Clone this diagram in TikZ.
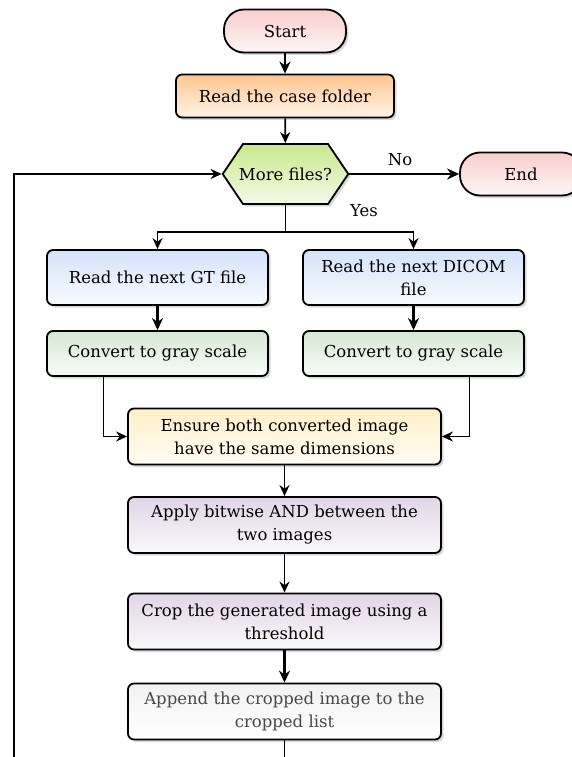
\documentclass[tikz,border=0pt]{standalone}
\usepackage{fontspec}
\setmainfont{DejaVu Serif}
\usetikzlibrary{arrows.meta,shadows,shapes.symbols}

\definecolor{termcol}{HTML}{F8CECC}
\definecolor{foldcol}{HTML}{FFC68F}
\definecolor{askcol}{HTML}{C8E88C}
\definecolor{readcol}{HTML}{D4E3FA}
\definecolor{convcol}{HTML}{D5E8D4}
\definecolor{samecol}{HTML}{FFF0C8}
\definecolor{andcol}{HTML}{E1D5E7}
\definecolor{listcol}{HTML}{F2F2F2}

\begin{document}
\begin{tikzpicture}[x=1pt, y=-1pt,
    font=\fontsize{16.5}{23}\selectfont,
    shade/.style={drop shadow={opacity=0.3, shadow xshift=2.5pt, shadow yshift=-2.5pt}},
    box/.style={draw, line width=1.8pt, rounded corners=6pt, align=center, inner sep=2pt, shade},
    term/.style={box, rounded corners=20pt, minimum width=122pt, minimum height=43pt, top color=termcol, bottom color=termcol!20!white},
    wide/.style={box, minimum width=313pt, minimum height=56pt},
    half/.style={box, minimum width=221pt},
    arr/.style={line width=1.8pt, -{Stealth[length=11pt, width=10pt]}},
    thickarr/.style={line width=2.6pt, -{Stealth[length=12pt, width=11pt]}},
    wire/.style={line width=1.8pt}
]
    \useasboundingbox (0,0) rectangle (571,757);

    % terminals
    \node[term] (start) at (285,31) {Start};
    \node[term] (stop) at (521,174) {End};

    % main column
    \node[box, minimum width=218pt, minimum height=43pt, top color=foldcol, bottom color=foldcol!20!white] (folder) at (285,96) {Read the case folder};
    \node[draw, line width=1.8pt, shape=signal, signal to=east and west, signal pointer angle=112, minimum height=60pt, inner xsep=-4pt, inner ysep=1pt, shade, top color=askcol, bottom color=askcol!20!white] (more) at (285.5,174) {More files?};

    \node[half, minimum height=55pt, top color=readcol, bottom color=readcol!15!white] (gt) at (157.5,277.5) {Read the next GT file};
    \node[half, minimum height=55pt, top color=readcol, bottom color=readcol!15!white] (dicom) at (413.5,277.5) {Read the next DICOM\\file};
    \node[half, minimum height=45pt, top color=convcol, bottom color=convcol!15!white] (cvl) at (157.5,353.5) {Convert to gray scale};
    \node[half, minimum height=45pt, top color=convcol, bottom color=convcol!15!white] (cvr) at (413.5,353.5) {Convert to gray scale};

    \node[wide, top color=samecol, bottom color=samecol!20!white] (ensure) at (284.5,436.5) {Ensure both converted image\\have the same dimensions};
    \node[wide, top color=andcol, bottom color=andcol!15!white] (apply) at (284.5,525) {Apply bitwise AND between the\\two images};
    \node[wide, top color=andcol, bottom color=andcol!15!white] (crop) at (284.5,621.5) {Crop the generated image using a\\threshold};
    \node[wide, top color=listcol, bottom color=white, text=black!72] (append) at (284.5,711.5) {Append the cropped image to the\\cropped list};

    % labels
    \node (no) at (400,160) {No};
    \node (yes) at (364,211) {Yes};

    % helper points
    \coordinate (split) at (285.5,232);
    \coordinate (appbot) at (284.5,757);
    \coordinate (loopbot) at (14,757);

    % connectors
    \draw[thickarr] (start) -- (folder);
    \draw[arr] (folder) -- (more);
    \draw[thickarr] (more.east) -- (stop.west);
    \draw[wire] (more.south) -- (split);
    \draw[arr] (split) -| (gt.north);
    \draw[arr] (split) -| (dicom.north);
    \draw[thickarr] (gt) -- (cvl);
    \draw[thickarr] (dicom) -- (cvr);
    \draw[arr] ([xshift=-54pt]cvl.south) |- (ensure.west);
    \draw[arr] ([xshift=56pt]cvr.south) |- (ensure.east);
    \draw[arr] (ensure) -- (apply);
    \draw[arr] (apply) -- (crop);
    \draw[thickarr] (crop) -- (append);
    \draw[wire] (append.south) -- (appbot);
    \draw[arr] (loopbot) |- (more.west);
\end{tikzpicture}
\end{document}
